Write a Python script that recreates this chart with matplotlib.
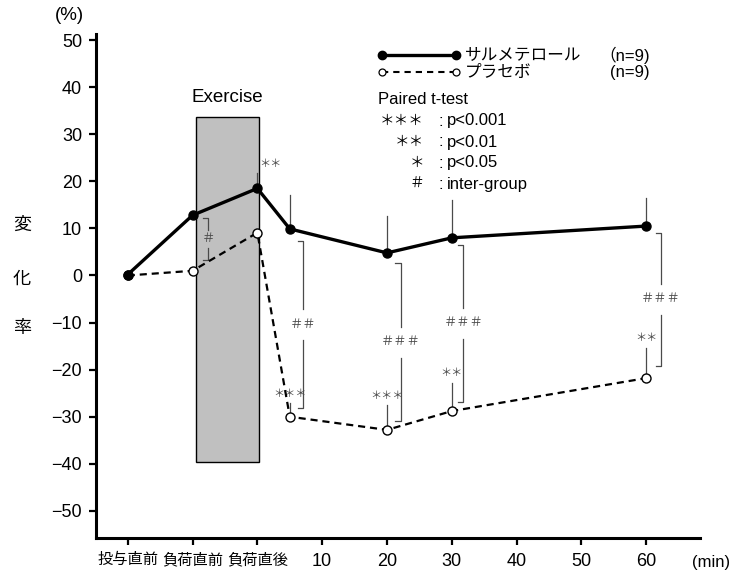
import matplotlib

matplotlib.use('Agg')
import matplotlib.pyplot as plt
from matplotlib.patches import Rectangle

plt.rcParams['font.family'] = ['Liberation Sans', 'Noto Sans CJK JP']

# 時間軸: 負荷直後 = 0 分
cat_ticks = [-20, -10, 0]
cat_labels = ['投与直前', '負荷直前', '負荷直後']
min_ticks = [10, 20, 30, 40, 50, 60]
y_ticks = [50, 40, 30, 20, 10, 0, -10, -20, -30, -40, -50]

times = [-20, -10, 0, 5, 20, 30, 60]
salmeterol = [0.2, 12.8, 18.5, 9.9, 4.8, 8.0, 10.5]
salm_sd_top = [None, None, 21.8, 17.1, 12.6, 16.0, 16.4]
placebo = [0.0, 1.0, 9.1, -30.0, -32.8, -28.8, -21.8]
plac_sd_top = [None, None, None, -27.1, -27.5, -22.8, -15.3]

# 群内比較 (paired t-test)
salm_stars = {2: '＊＊'}
plac_stars = {3: '＊＊＊', 4: '＊＊＊', 5: '＊＊', 6: '＊＊'}

# 群間比較: x, 上端, 下端, ラベル
brackets = [
    (-7.6, 12.2, 3.3, '＃'),
    (7.0, 7.3, -28.2, '＃＃'),
    (22.1, 2.7, -31.0, '＃＃＃'),
    (31.8, 6.5, -26.8, '＃＃＃'),
    (62.3, 9.0, -19.2, '＃＃＃'),
]

exercise_x = (-9.5, 0.2)
exercise_y = (-39.7, 33.7)

W, H = 730, 575
fig = plt.figure(figsize=(W / 100, H / 100), dpi=100)
ax = fig.add_axes([96 / W, (H - 537.7) / H, (700 - 96) / W, (537.7 - 34) / H])
ax.set_xlim(-24.9, 68.3)
ax.set_ylim(-55.7, 51.3)


def px(x, y):
    return x / W, 1 - y / H


grey = '#4a4a4a'

# Exercise の枠
ax.add_patch(Rectangle((exercise_x[0], exercise_y[0]), exercise_x[1] - exercise_x[0],
                       exercise_y[1] - exercise_y[0], facecolor='#c0c0c0',
                       edgecolor='black', linewidth=1.0, zorder=1))
ax.text(sum(exercise_x) / 2, exercise_y[1] + 2.3, 'Exercise', ha='center', va='bottom',
        fontsize=13.5)

# SD の線
for t, v, top in zip(times, salmeterol, salm_sd_top):
    if top is not None:
        ax.plot([t, t], [v, top], color=grey, lw=0.9, zorder=2)
for t, v, top in zip(times, placebo, plac_sd_top):
    if top is not None:
        ax.plot([t, t], [v, top], color=grey, lw=0.9, zorder=2)

ax.plot(times, placebo, color='black', lw=1.6, linestyle=(0, (3.2, 2.2)),
        marker='o', markersize=6.5, markerfacecolor='white', markeredgecolor='black',
        markeredgewidth=1.0, zorder=4)
ax.plot(times, salmeterol, color='black', lw=2.4, marker='o', markersize=6.5,
        markerfacecolor='black', markeredgecolor='black', zorder=5)

# 有意差の記号
for i, s in salm_stars.items():
    ax.text(times[i] + 2.0, salm_sd_top[i] + 1.9, s, ha='center', va='center',
            fontsize=8, color=grey)
for i, s in plac_stars.items():
    ax.text(times[i], plac_sd_top[i] + 2.0, s, ha='center', va='center',
            fontsize=8, color=grey)

for x, top, bot, lab in brackets:
    mid = (top + bot) / 2
    gap = 2.0 if len(lab) == 1 else 3.3
    ax.plot([x - 0.8, x, x], [top, top, mid + gap], color=grey, lw=0.9, zorder=3)
    ax.plot([x, x, x - 0.8], [mid - gap, bot, bot], color=grey, lw=0.9, zorder=3)
    ax.text(x, mid, lab, ha='center', va='center', fontsize=9.5, color=grey)

# 軸
for side in ['top', 'right']:
    ax.spines[side].set_visible(False)
for side in ['left', 'bottom']:
    ax.spines[side].set_linewidth(2.2)
ax.set_yticks(y_ticks)
ax.set_yticklabels([str(v).replace('-', '\u2212') for v in y_ticks], fontsize=13)
ax.set_xticks(cat_ticks + min_ticks)
ax.set_xticklabels(cat_labels + [str(v) for v in min_ticks], fontsize=13)
for lab in ax.get_xticklabels()[:len(cat_labels)]:
    lab.set_fontsize(11)
ax.tick_params(axis='both', direction='out', length=5, width=1.6, pad=5)
ax.tick_params(axis='x', pad=6)

fig.text(*px(69, 16), '(%)', ha='center', va='center', fontsize=13.5)
fig.text(*px(711, 562), '(min)', ha='center', va='center', fontsize=12)
for ch, yy in zip('変化率', [225, 279, 328]):
    fig.text(*px(22, yy), ch, ha='center', va='center', fontsize=13)

# 凡例
lx0, lx1 = (382 - 257.2) / 6.48, (456 - 257.2) / 6.48
ly1, ly2 = (275.5 - 55) / 4.71, (275.5 - 71.7) / 4.71
ax.plot([lx0, lx1], [ly1, ly1], color='black', lw=2.4, marker='o', markersize=6,
        markerfacecolor='black')
ax.plot([lx0, lx1], [ly2, ly2], color='black', lw=1.5, linestyle=(0, (3, 2.4)),
        marker='o', markersize=5, markerfacecolor='white', markeredgewidth=0.9)
fig.text(*px(465, 55), 'サルメテロール', ha='left', va='center', fontsize=12)
fig.text(*px(465, 72), 'プラセボ', ha='left', va='center', fontsize=12)
fig.text(*px(650, 55), '（n=9)', ha='right', va='center', fontsize=12)
fig.text(*px(650, 72), '(n=9)', ha='right', va='center', fontsize=12)
fig.text(*px(378, 100), 'Paired t-test', ha='left', va='center', fontsize=12)
legend_rows = [('＊＊＊', 'p<0.001'), ('＊＊', 'p<0.01'), ('＊', 'p<0.05'),
               ('＃', 'inter-group')]
for (sym, txt), yy in zip(legend_rows, [121, 142, 163, 184]):
    fig.text(*px(424, yy), sym, ha='right', va='center', fontsize=10.5)
    fig.text(*px(441, yy), ':', ha='center', va='center', fontsize=12)
    fig.text(*px(447, yy), txt, ha='left', va='center', fontsize=12)

fig.savefig('out.png', dpi=100)
